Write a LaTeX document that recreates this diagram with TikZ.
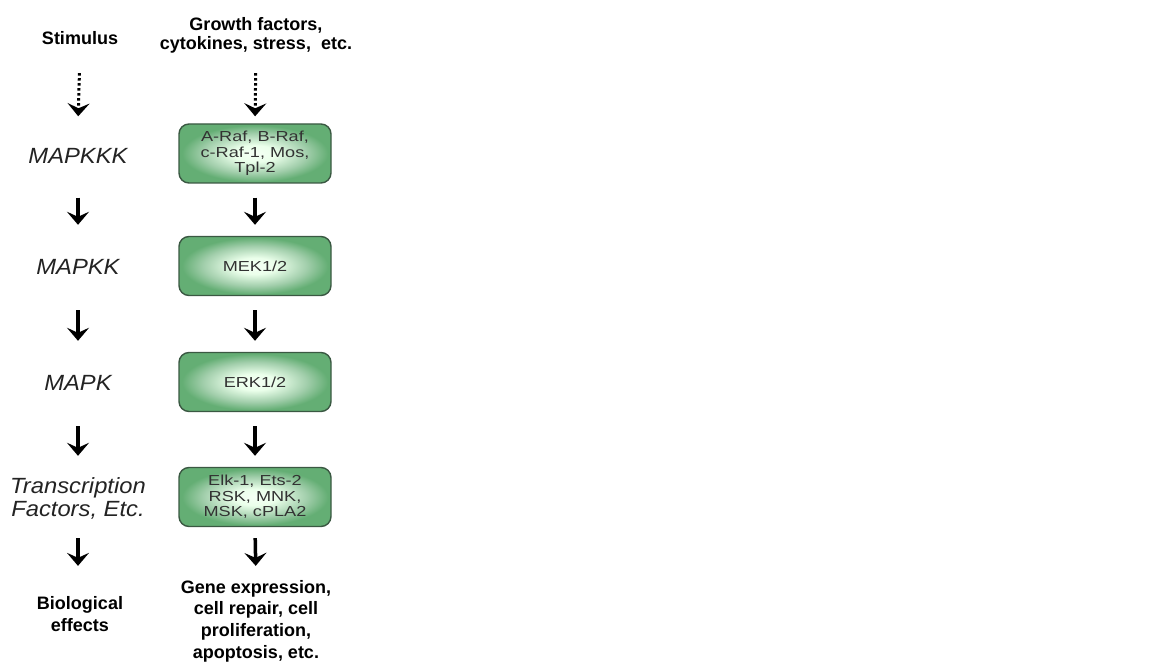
\documentclass[tikz,border=0pt]{standalone}
\usepackage{fontspec}
\setmainfont{Liberation Sans}
\newfontfamily\boxfont[FakeStretch=1.25]{Liberation Sans}
\newfontfamily\italfont[FakeStretch=1.08]{Liberation Sans}
\usetikzlibrary{calc,arrows.meta}
\definecolor{boxgreen}{RGB}{100,174,116}
\definecolor{boxline}{RGB}{58,88,66}
\definecolor{boxtext}{RGB}{50,50,50}
\definecolor{labtext}{RGB}{35,35,35}
\pgfdeclareradialshading{boxglow}{\pgfpoint{0bp}{0bp}}{color(0bp)=(green!4!white); color(7bp)=(green!8!white); color(17bp)=(boxgreen!60!white); color(24bp)=(boxgreen); color(50bp)=(boxgreen)}
\tikzset{
    headtext/.style= {font=\fontsize{18}{19}\selectfont\bfseries,align=center,inner sep=0},
    foottext/.style= {font=\fontsize{18}{21.7}\selectfont\bfseries,align=center,inner sep=0},
    steplabel/.style= {font=\fontsize{22}{23}\italfont\itshape,text=labtext,align=center,inner sep=0},
    kinasebox/.style= {draw=boxline,line width=1.4pt,rounded corners=10pt,shading=boxglow,minimum width=152pt,minimum height=59pt,inner sep=0,align=center,text=boxtext,font=\fontsize{14.5}{15.5}\boxfont},
    solidarr/.style= {-{Stealth[length=13pt,width=22pt,inset=5pt]},line width=3.5pt},
    dotarr/.style= {-{Stealth[length=13pt,width=22pt,inset=5pt]},line width=3pt,dash pattern=on 2.5pt off 2.5pt}
}

\begin{document}
\begin{tikzpicture}[x=1pt,y=-1pt]
    \useasboundingbox (0,0) rectangle (1151,668);

    \node[headtext] (stim) at (80,38) {Stimulus};
    \node[headtext] (grow) at (256,35) {Growth factors,\\cytokines, stress,\ \ etc.};

    \node[steplabel] (mk3) at (78,156) {MAPKKK};
    \node[steplabel] (mk2) at (78,267) {MAPKK};
    \node[steplabel] (mk1) at (78,383) {MAPK};
    \node[steplabel] (tf) at (78,498) {Transcription\\Factors, Etc.};

    \node[kinasebox] (box1) at (255,153.5) {A-Raf, B-Raf,\\c-Raf-1, Mos,\\Tpl-2};
    \node[kinasebox] (box2) at (255,266) {MEK1/2};
    \node[kinasebox] (box3) at (255,382) {ERK1/2};
    \node[kinasebox] (box4) at (255,497) {Elk-1, Ets-2\\RSK, MNK,\\MSK, cPLA2};

    \node[foottext] (bio) at (80,614) {Biological\\effects};
    \node[foottext] (gene) at (256,621) {Gene expression,\\cell repair, cell\\proliferation,\\apoptosis, etc.};

    % stimulus arrows
    \draw[dotarr,shorten <=20pt,shorten >=7pt] (grow.south) -- (box1.north);
    \draw[dotarr,shorten <=20pt,shorten >=7pt] (stim |- grow.south) -- (mk3 |- box1.north);

    % cascade arrows
    \foreach \a/\b/\la/\lb in {box1/box2/mk3/mk2,box2/box3/mk2/mk1,box3/box4/mk1/tf}{
        \draw[solidarr,shorten <=14pt,shorten >=11pt] (\a.south) -- (\b.north);
        \draw[solidarr,shorten <=14pt,shorten >=11pt] (\la |- \a.south) -- (\lb |- \b.north);
    }
    \draw[solidarr,shorten <=11pt,shorten >=14pt] (box4.south) -- (gene.north);
    \draw[solidarr,shorten <=11pt,shorten >=14pt] (tf |- box4.south) -- (tf |- gene.north);
\end{tikzpicture}
\end{document}
